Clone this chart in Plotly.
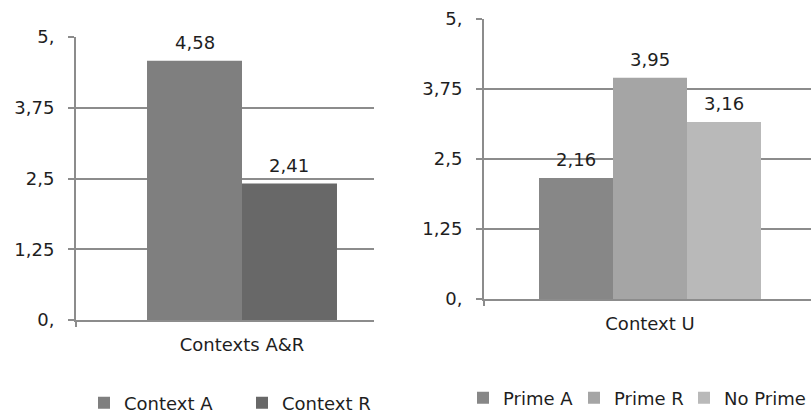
import plotly.graph_objects as go

# Mean ratings, left panel (contexts A and R) and right panel (context U)
left_category = ["Contexts A&R"]
left_series = ["Context A", "Context R"]
left_values = [4.58, 2.41]
left_colors = ["#7f7f7f", "#686868"]

right_category = ["Context U"]
right_series = ["Prime A", "Prime R", "No Prime"]
right_values = [2.16, 3.95, 3.16]
right_colors = ["#878787", "#a5a5a5", "#b9b9b9"]

tick_values = [0, 1.25, 2.5, 3.75, 5]
tick_labels = ["0,", "1,25", "2,5", "3,75", "5,"]

W, H = 811, 416
FONT = "DejaVu Sans"
GRID = "#8c8c8c"
TXT = "#1e1e1e"
UNIT_PX = 332  # pixels per category unit on both x axes

fig = go.Figure()
annotations = []


def add_panel(category, series, values, colors, bar_w, xa, ya, legends):
    n = len(series)
    for i, (name, val, col) in enumerate(zip(series, values, colors)):
        off = -n / 2 * bar_w + i * bar_w
        fig.add_trace(go.Bar(
            x=category, y=[val], name=name,
            marker=dict(color=col, line=dict(width=0)),
            width=bar_w, offset=off,
            xaxis=xa, yaxis=ya, legend=legends[i],
        ))
        # value label above the bar
        annotations.append(dict(
            x=category[0], y=val, xref=xa, yref=ya,
            xshift=(off + bar_w / 2) * UNIT_PX, yshift=6,
            yanchor="bottom", showarrow=False,
            text=f"{val:.2f}".replace(".", ","),
            font=dict(family=FONT, size=18, color=TXT),
        ))


add_panel(left_category, left_series, left_values, left_colors, 0.2861,
          "x", "y", ["legend", "legend"])
add_panel(right_category, right_series, right_values, right_colors, 0.2229,
          "x2", "y2", ["legend2", "legend3", "legend4"])


def yaxis(domain, anchor):
    return dict(
        domain=domain, anchor=anchor, range=[0, 5],
        tickvals=tick_values, ticktext=tick_labels,
        showgrid=True, gridcolor=GRID, gridwidth=1.5,
        zeroline=False, showline=True, linecolor=GRID, linewidth=2,
        ticks="outside", ticklen=6, tickcolor=GRID, tickwidth=1.5,
        ticklabelstandoff=10,
        tickfont=dict(family=FONT, size=18, color=TXT),
    )


def xaxis(domain, anchor, rng):
    return dict(
        domain=domain, anchor=anchor, range=rng, type="category",
        showline=True, linecolor=GRID, linewidth=1.5,
        ticks="outside", tickson="boundaries", ticklen=5, tickcolor=GRID, tickwidth=2,
        showgrid=False, zeroline=False,
        ticklabelstandoff=8,
        tickfont=dict(family=FONT, size=18, color=TXT),
    )


def legend_box(x_px, y_px, **extra):
    return dict(
        orientation="h", x=x_px / W, xanchor="left", y=(H - y_px) / H, yanchor="middle",
        font=dict(family=FONT, size=18, color=TXT), bgcolor="rgba(0,0,0,0)", **extra,
    )


fig.update_layout(
    width=W, height=H,
    margin=dict(l=0, r=0, t=0, b=0, autoexpand=False),
    paper_bgcolor="white", plot_bgcolor="white",
    barmode="overlay",
    xaxis=xaxis([76 / W, 374 / W], "y", [-0.5, 132 / UNIT_PX]),
    yaxis=yaxis([(H - 320) / H, (H - 37) / H], "x"),
    xaxis2=xaxis([484 / W, 1.0], "y2", [-0.5, 161 / UNIT_PX]),
    yaxis2=yaxis([(H - 299) / H, (H - 19) / H], "x2"),
    annotations=annotations,
    legend=legend_box(84, 403, entrywidth=113, entrywidthmode="pixels"),
    legend2=legend_box(463, 398),
    legend3=legend_box(574, 398),
    legend4=legend_box(684, 398),
    showlegend=True,
)

fig.write_html("out.html")
